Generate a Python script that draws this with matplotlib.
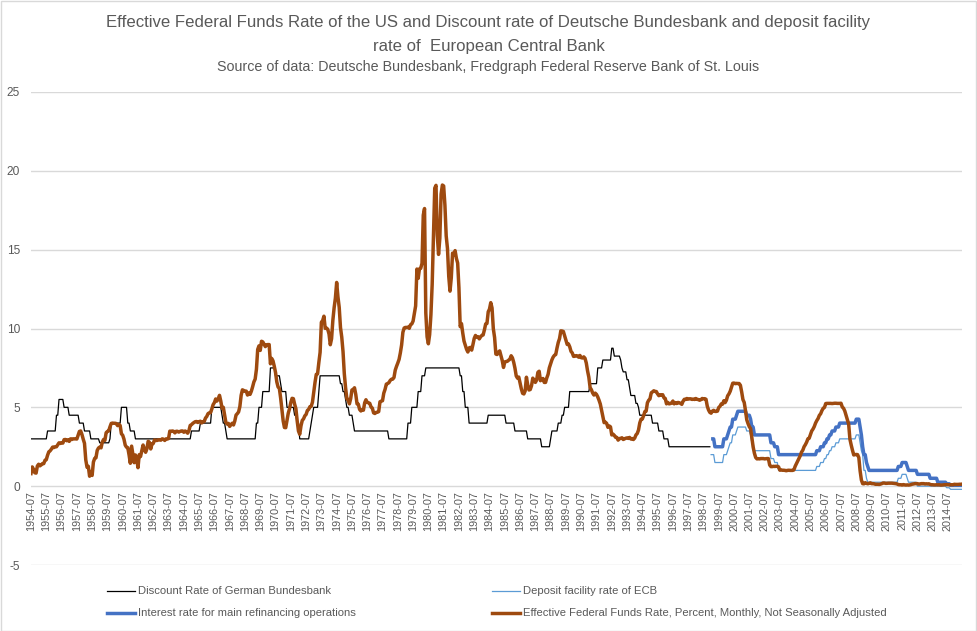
import numpy as np
import matplotlib
matplotlib.use("Agg")
import matplotlib.pyplot as plt
from matplotlib.lines import Line2D
from matplotlib.patches import Rectangle

# ---------------- data ----------------
start_year, start_month = 1954, 7

# Effective Federal Funds Rate, monthly, 1954-07 .. 2015-06
fed_funds = [
    0.80, 1.22, 1.07, 0.85, 0.83, 1.28,
    1.39, 1.29, 1.35, 1.43, 1.43, 1.64, 1.68, 1.96, 2.18, 2.24, 2.35, 2.48,
    2.45, 2.50, 2.50, 2.62, 2.75, 2.71, 2.75, 2.73, 2.95, 2.96, 2.88, 2.94,
    2.84, 3.00, 2.96, 3.00, 3.00, 3.00, 2.99, 3.24, 3.47, 3.50, 3.28, 2.98,
    2.72, 1.67, 1.20, 1.26, 0.63, 0.93, 0.68, 1.53, 1.76, 1.80, 2.27, 2.42,
    2.48, 2.43, 2.80, 2.96, 2.90, 3.39, 3.47, 3.50, 3.76, 3.98, 4.00, 3.99,
    3.99, 3.97, 3.84, 3.92, 3.85, 3.32, 3.23, 2.98, 2.60, 2.47, 2.44, 1.98,
    1.45, 2.54, 2.02, 1.49, 1.98, 1.73, 1.17, 2.00, 1.88, 2.26, 2.61, 2.33,
    2.15, 2.37, 2.85, 2.78, 2.36, 2.68, 2.71, 2.93, 2.90, 2.90, 2.94, 2.93,
    2.92, 3.00, 2.98, 2.90, 3.00, 2.99, 3.02, 3.49, 3.48, 3.50, 3.48, 3.38,
    3.48, 3.48, 3.43, 3.47, 3.50, 3.50, 3.42, 3.50, 3.45, 3.36, 3.52, 3.85,
    3.90, 3.98, 4.04, 4.09, 4.10, 4.04, 4.09, 4.12, 4.01, 4.08, 4.10, 4.32,
    4.42, 4.60, 4.65, 4.67, 4.90, 5.17, 5.30, 5.53, 5.40, 5.53, 5.76, 5.40,
    4.94, 5.00, 4.53, 4.05, 3.94, 3.98, 3.79, 3.90, 3.99, 3.88, 4.13, 4.51,
    4.60, 4.71, 5.05, 5.76, 6.11, 6.07, 6.02, 6.03, 5.78, 5.91, 5.82, 6.02,
    6.30, 6.61, 6.79, 7.41, 8.67, 8.90, 8.61, 9.19, 9.15, 9.00, 8.85, 8.97,
    8.98, 8.98, 7.76, 8.10, 7.95, 7.61, 7.21, 6.61, 6.29, 6.20, 5.60, 4.90,
    4.14, 3.72, 3.71, 4.16, 4.63, 4.91, 5.31, 5.57, 5.55, 5.20, 4.91, 4.14,
    3.50, 3.29, 3.83, 4.17, 4.27, 4.46, 4.55, 4.80, 4.87, 5.04, 5.06, 5.33,
    5.94, 6.58, 7.09, 7.12, 7.84, 8.49, 10.40, 10.50, 10.78, 10.01, 10.03, 9.95,
    9.65, 8.97, 9.35, 10.51, 11.31, 11.93, 12.92, 12.01, 11.34, 10.06, 9.45, 8.53,
    7.13, 6.24, 5.54, 5.49, 5.22, 5.55, 6.10, 6.14, 6.24, 5.82, 5.22, 5.20,
    4.87, 4.77, 4.84, 4.82, 5.29, 5.48, 5.31, 5.29, 5.25, 5.02, 4.95, 4.65,
    4.61, 4.68, 4.69, 4.73, 5.35, 5.39, 5.42, 5.90, 6.14, 6.47, 6.51, 6.56,
    6.70, 6.78, 6.79, 6.89, 7.36, 7.60, 7.81, 8.04, 8.45, 8.96, 9.76, 10.03,
    10.07, 10.06, 10.09, 10.01, 10.24, 10.29, 10.47, 10.94, 11.43, 13.77, 13.18, 13.78,
    13.82, 14.13, 17.19, 17.61, 10.98, 9.47, 9.03, 9.61, 10.87, 12.81, 15.85, 18.90,
    19.08, 15.93, 14.70, 15.72, 18.52, 19.10, 19.04, 17.82, 15.87, 15.08, 13.31, 12.37,
    13.22, 14.78, 14.68, 14.94, 14.45, 14.15, 12.59, 10.12, 10.31, 9.71, 9.20, 8.95,
    8.68, 8.51, 8.77, 8.80, 8.63, 8.98, 9.37, 9.56, 9.45, 9.48, 9.34, 9.47,
    9.56, 9.59, 9.91, 10.29, 10.32, 11.06, 11.23, 11.64, 11.30, 9.99, 9.43, 8.38,
    8.35, 8.50, 8.58, 8.27, 7.97, 7.53, 7.88, 7.90, 7.92, 7.99, 8.05, 8.27,
    8.14, 7.86, 7.48, 6.99, 6.85, 6.92, 6.56, 6.17, 5.89, 5.85, 6.04, 6.91,
    6.43, 6.10, 6.13, 6.37, 6.85, 6.73, 6.58, 6.73, 7.22, 7.29, 6.69, 6.77,
    6.83, 6.58, 6.58, 6.87, 7.09, 7.51, 7.75, 8.01, 8.19, 8.30, 8.35, 8.76,
    9.12, 9.36, 9.85, 9.84, 9.81, 9.53, 9.24, 8.99, 9.02, 8.84, 8.55, 8.45,
    8.23, 8.24, 8.28, 8.26, 8.18, 8.29, 8.15, 8.13, 8.20, 8.11, 7.81, 7.31,
    6.91, 6.25, 6.12, 5.91, 5.78, 5.90, 5.82, 5.66, 5.45, 5.21, 4.81, 4.43,
    4.03, 4.06, 3.98, 3.73, 3.82, 3.76, 3.25, 3.30, 3.22, 3.10, 3.09, 2.92,
    3.02, 3.03, 3.07, 2.96, 3.00, 3.04, 3.06, 3.03, 3.09, 2.99, 3.02, 2.96,
    3.05, 3.25, 3.34, 3.56, 4.01, 4.25, 4.26, 4.47, 4.73, 4.76, 5.29, 5.45,
    5.53, 5.92, 5.98, 6.05, 6.01, 6.00, 5.85, 5.74, 5.80, 5.76, 5.80, 5.60,
    5.56, 5.22, 5.31, 5.22, 5.24, 5.27, 5.40, 5.22, 5.30, 5.24, 5.31, 5.29,
    5.25, 5.19, 5.39, 5.51, 5.50, 5.56, 5.52, 5.54, 5.54, 5.50, 5.52, 5.50,
    5.56, 5.51, 5.49, 5.45, 5.49, 5.56, 5.54, 5.55, 5.51, 5.07, 4.83, 4.68,
    4.63, 4.76, 4.81, 4.74, 4.74, 4.76, 4.99, 5.07, 5.22, 5.20, 5.42, 5.30,
    5.45, 5.73, 5.85, 6.02, 6.27, 6.53, 6.54, 6.50, 6.52, 6.51, 6.51, 6.40,
    5.98, 5.49, 5.31, 4.80, 4.21, 3.97, 3.77, 3.65, 3.07, 2.49, 2.09, 1.82,
    1.73, 1.74, 1.73, 1.75, 1.75, 1.75, 1.73, 1.74, 1.75, 1.75, 1.34, 1.24,
    1.24, 1.26, 1.25, 1.26, 1.26, 1.22, 1.01, 1.03, 1.01, 1.01, 1.00, 0.98,
    1.00, 1.01, 1.00, 1.00, 1.00, 1.03, 1.26, 1.43, 1.61, 1.76, 1.93, 2.16,
    2.28, 2.50, 2.63, 2.79, 3.00, 3.04, 3.26, 3.50, 3.62, 3.78, 4.00, 4.16,
    4.29, 4.49, 4.59, 4.79, 4.94, 4.99, 5.24, 5.25, 5.25, 5.25, 5.25, 5.24,
    5.25, 5.26, 5.26, 5.25, 5.25, 5.25, 5.26, 5.02, 4.94, 4.76, 4.49, 4.24,
    3.94, 2.98, 2.61, 2.28, 1.98, 2.00, 2.01, 2.00, 1.81, 0.97, 0.39, 0.16,
    0.15, 0.22, 0.18, 0.15, 0.18, 0.21, 0.16, 0.16, 0.15, 0.12, 0.12, 0.12,
    0.11, 0.13, 0.16, 0.20, 0.20, 0.18, 0.18, 0.19, 0.19, 0.19, 0.19, 0.18,
    0.17, 0.16, 0.14, 0.10, 0.09, 0.09, 0.07, 0.10, 0.08, 0.07, 0.08, 0.07,
    0.08, 0.10, 0.13, 0.14, 0.16, 0.16, 0.16, 0.13, 0.14, 0.16, 0.16, 0.16,
    0.14, 0.15, 0.14, 0.15, 0.11, 0.09, 0.09, 0.08, 0.08, 0.09, 0.08, 0.09,
    0.07, 0.07, 0.08, 0.09, 0.09, 0.10, 0.09, 0.09, 0.09, 0.09, 0.09, 0.12,
    0.11, 0.11, 0.11, 0.12, 0.12, 0.13,
]

# Discount rate of the Deutsche Bundesbank: month of change -> new rate
discount_dates = [
    "1954-07", "1955-08", "1956-03", "1956-05", "1956-09", "1957-01", "1957-09",
    "1958-01", "1958-06", "1959-01", "1959-09", "1959-10", "1960-06", "1960-11",
    "1961-01", "1961-05", "1965-01", "1965-08", "1966-05", "1967-01", "1967-02",
    "1967-04", "1967-05", "1969-04", "1969-06", "1969-09", "1970-03", "1970-07",
    "1970-11", "1970-12", "1971-04", "1971-10", "1971-12", "1972-02", "1972-10",
    "1972-11", "1972-12", "1973-01", "1973-05", "1973-06", "1974-10", "1974-12",
    "1975-02", "1975-03", "1975-05", "1975-08", "1975-09", "1977-12", "1979-03",
    "1979-06", "1979-11", "1980-02", "1980-05", "1982-08", "1982-10", "1982-12",
    "1983-03", "1984-06", "1985-08", "1986-03", "1987-01", "1987-12", "1988-07",
    "1988-08", "1989-01", "1989-04", "1989-06", "1989-10", "1991-02", "1991-08",
    "1991-12", "1992-07", "1992-09", "1993-02", "1993-03", "1993-04", "1993-07",
    "1993-09", "1993-10", "1994-02", "1994-04", "1994-05", "1995-03", "1995-08",
    "1995-12", "1996-04",
]
discount_rates = [
    3.0, 3.5, 4.5, 5.5, 5.0, 4.5, 4.0,
    3.5, 3.0, 2.75, 3.0, 4.0, 5.0, 4.0,
    3.5, 3.0, 3.5, 4.0, 5.0, 4.5, 4.0,
    3.5, 3.0, 4.0, 5.0, 6.0, 7.5, 7.0,
    6.5, 6.0, 5.0, 4.5, 4.0, 3.0, 3.5,
    4.0, 4.5, 5.0, 6.0, 7.0, 6.5, 6.0,
    5.5, 5.0, 4.5, 4.0, 3.5, 3.0, 4.0,
    5.0, 6.0, 7.0, 7.5, 7.0, 6.0, 5.0,
    4.0, 4.5, 4.0, 3.5, 3.0, 2.5, 3.0,
    3.5, 4.0, 4.5, 5.0, 6.0, 6.5, 7.5,
    8.0, 8.75, 8.25, 8.0, 7.5, 7.25, 6.75,
    6.25, 5.75, 5.25, 5.0, 4.5, 4.0, 3.5,
    3.0, 2.5,
]
discount_end = "1998-12"

# ECB main refinancing operations rate: month of change -> new rate
mro_dates = [
    "1999-01", "1999-04", "1999-11", "2000-02", "2000-03", "2000-04", "2000-06",
    "2000-09", "2000-10", "2001-05", "2001-08", "2001-09", "2001-11", "2002-12",
    "2003-03", "2003-06", "2005-12", "2006-03", "2006-06", "2006-08", "2006-10",
    "2006-12", "2007-03", "2007-06", "2008-07", "2008-10", "2008-11", "2008-12",
    "2009-01", "2009-03", "2009-04", "2009-05", "2011-04", "2011-07", "2011-11",
    "2011-12", "2012-07", "2013-05", "2013-11", "2014-06", "2014-09",
]
mro_rates = [
    3.0, 2.5, 3.0, 3.25, 3.5, 3.75, 4.25,
    4.5, 4.75, 4.5, 4.25, 3.75, 3.25, 2.75,
    2.5, 2.0, 2.25, 2.5, 2.75, 3.0, 3.25,
    3.5, 3.75, 4.0, 4.25, 3.75, 3.25, 2.5,
    2.0, 1.5, 1.25, 1.0, 1.25, 1.5, 1.25,
    1.0, 0.75, 0.5, 0.25, 0.15, 0.05,
]

# ECB deposit facility rate: month of change -> new rate
deposit_dates = [
    "1999-01", "1999-04", "1999-11", "2000-02", "2000-03", "2000-04", "2000-06",
    "2000-09", "2000-10", "2001-05", "2001-08", "2001-09", "2001-11", "2002-12",
    "2003-03", "2003-06", "2005-12", "2006-03", "2006-06", "2006-08", "2006-10",
    "2006-12", "2007-03", "2007-06", "2008-07", "2008-10", "2008-11", "2008-12",
    "2009-01", "2009-03", "2009-04", "2011-04", "2011-07", "2011-11", "2011-12",
    "2012-07", "2014-06", "2014-09",
]
deposit_rates = [
    2.0, 1.5, 2.0, 2.25, 2.5, 2.75, 3.25,
    3.5, 3.75, 3.5, 3.25, 2.75, 2.25, 1.75,
    1.5, 1.0, 1.25, 1.5, 1.75, 2.0, 2.25,
    2.5, 2.75, 3.0, 3.25, 2.75, 2.25, 2.0,
    1.0, 0.5, 0.25, 0.5, 0.75, 0.5, 0.25,
    0.0, -0.1, -0.2,
]

y_ticks = [-5, 0, 5, 10, 15, 20, 25]

title_line1 = "Effective Federal Funds Rate of the US and Discount rate of Deutsche Bundesbank and deposit facility"
title_line2 = "rate of  European Central Bank"
subtitle = "Source of data: Deutsche Bundesbank, Fredgraph Federal Reserve Bank of St. Louis"

label_discount = "Discount Rate of German Bundesbank"
label_deposit = "Deposit facility rate of ECB"
label_mro = "Interest rate for main refinancing operations"
label_ff = "Effective Federal Funds Rate, Percent, Monthly, Not Seasonally Adjusted"

# ---------------- helpers ----------------
N = len(fed_funds)


def month_index(s):
    y, m = s.split("-")
    return (int(y) - start_year) * 12 + (int(m) - start_month)


def step_series(dates, rates, end=None):
    out = np.full(N, np.nan)
    idxs = [month_index(d) for d in dates]
    last = N - 1 if end is None else month_index(end)
    for k, (i0, r) in enumerate(zip(idxs, rates)):
        i1 = idxs[k + 1] - 1 if k + 1 < len(idxs) else last
        out[i0:i1 + 1] = r
    return out


x = np.arange(N)
discount = step_series(discount_dates, discount_rates, discount_end)
mro = step_series(mro_dates, mro_rates)
deposit = step_series(deposit_dates, deposit_rates)
ff = np.array(fed_funds)

tick_pos = list(range(0, N, 12))
tick_labels = []
for p in tick_pos:
    yy = start_year + (start_month - 1 + p) // 12
    mm = (start_month - 1 + p) % 12 + 1
    tick_labels.append(f"{yy}-{mm:02d}")

# ---------------- figure ----------------
W, H = 977, 631
fig = plt.figure(figsize=(W / 100, H / 100), dpi=100)
fig.patch.set_facecolor("white")
plt.rcParams["font.family"] = ["Liberation Sans", "DejaVu Sans"]

grey_txt = "#595959"
grid_c = "#D9D9D9"

ax = fig.add_axes([31 / W, (H - 565) / H, (962 - 31) / W, (565 - 92) / H])
ax.set_xlim(0, N - 1)
ax.set_ylim(-5, 25)
ax.set_yticks(y_ticks)
ax.set_yticklabels([str(v) for v in y_ticks])
for v in y_ticks:
    ax.axhline(v, color=grid_c, lw=1.0, zorder=0)
for s in ax.spines.values():
    s.set_visible(False)
ax.tick_params(axis="y", length=0, pad=8, labelsize=8.6, labelcolor=grey_txt)
ax.set_xticks([])

# x tick labels sit just below the zero line
for p, lab in zip(tick_pos, tick_labels):
    ax.text(p, -0.3, lab, rotation=90, ha="center", va="top", fontsize=7.8,
            color=grey_txt)

c_black = "#000000"
c_dep = "#5B9BD5"
c_mro = "#4472C4"
c_ff = "#9E4A0F"

ax.plot(x, discount, color=c_black, lw=0.9, zorder=2)
ax.plot(x, deposit, color=c_dep, lw=0.9, zorder=3)
ax.plot(x, mro, color=c_mro, lw=2.5, zorder=4, solid_capstyle="butt")
ax.plot(x, ff, color=c_ff, lw=2.5, zorder=5, solid_joinstyle="round")

# titles
fig.text(0.5, 1 - 22 / H, title_line1, ha="center", va="center", fontsize=12.1,
         color=grey_txt)
fig.text(0.5, 1 - 46 / H, title_line2, ha="center", va="center", fontsize=12.1,
         color=grey_txt)
fig.text(0.5, 1 - 67 / H, subtitle, ha="center", va="center", fontsize=10.3,
         color=grey_txt)

# legend (manual, row-wise as in reference)
legend_items = [
    (107, 591, c_black, 0.9, label_discount),
    (492, 591, c_dep, 0.9, label_deposit),
    (107, 613, c_mro, 2.5, label_mro),
    (492, 613, c_ff, 2.5, label_ff),
]
for lx, ly, col, lw, lab in legend_items:
    yf = 1 - ly / H
    fig.add_artist(Line2D([lx / W, (lx + 28) / W], [yf, yf], color=col, lw=lw,
                          transform=fig.transFigure))
    fig.text((lx + 31) / W, yf, lab, ha="left", va="center", fontsize=8.1,
             color=grey_txt)

# chart-area border
fig.add_artist(Rectangle((0.5 / W, 0.5 / H), (W - 1.5) / W, (H - 1.5) / H,
                         transform=fig.transFigure, fill=False,
                         edgecolor=grid_c, lw=1.0))

fig.savefig("out.png", dpi=100, facecolor="white")
